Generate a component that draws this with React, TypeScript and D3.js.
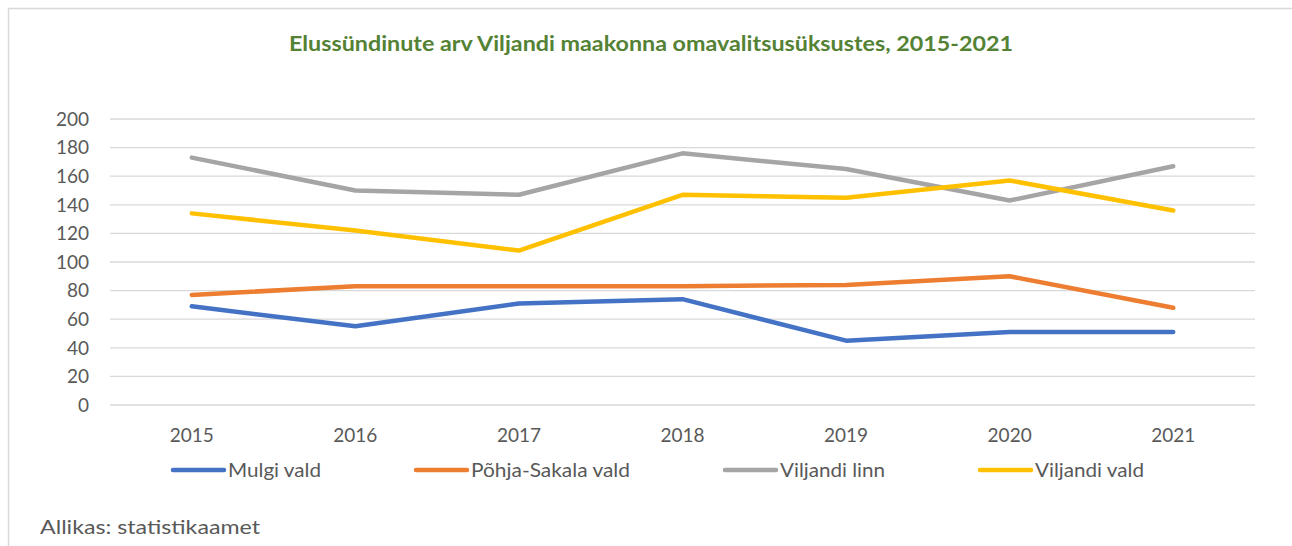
import React from "react";
import * as d3 from "d3";

const years = ["2015", "2016", "2017", "2018", "2019", "2020", "2021"];
const seriesNames = ["Mulgi vald", "Põhja-Sakala vald", "Viljandi linn", "Viljandi vald"];
const mulgi = [69, 55, 71, 74, 45, 51, 51];
const pohjaSakala = [77, 83, 83, 83, 84, 90, 68];
const viljandiLinn = [173, 150, 147, 176, 165, 143, 167];
const viljandiVald = [134, 122, 108, 147, 145, 157, 136];
const yTicks = [0, 20, 40, 60, 80, 100, 120, 140, 160, 180, 200];
const colors = ["#4472C4", "#ED7D31", "#A5A5A5", "#FFC000"];
const title = "Elussündinute arv Viljandi maakonna omavalitsusüksustes, 2015-2021";
const source = "Allikas: statistikaamet";

const W = 1292;
const H = 546;
const font = "Lato, 'Open Sans', sans-serif";

export default function App() {
  const x = d3.scaleBand().domain(years).range([110, 1255]);
  const y = d3.scaleLinear().domain([0, 200]).range([405, 119]);
  const data = [mulgi, pohjaSakala, viljandiLinn, viljandiVald];
  const line = d3
    .line<number>()
    .x((_, i) => (x(years[i]) as number) + x.bandwidth() / 2)
    .y((d) => y(d));
  const legendX = [173, 416, 725, 980];
  const legendTextW = [93, 159, 105, 109];

  return (
    <svg
      width={W}
      height={H}
      style={{ position: "absolute", left: 0, top: 0, background: "#fff" }}
    >
      <rect x={0} y={0} width={W} height={H} fill="#fff" />
      <line x1={8} y1={8.5} x2={W} y2={8.5} stroke="#d9d9d9" strokeWidth={1.5} />
      <line x1={8.5} y1={8} x2={8.5} y2={H} stroke="#d9d9d9" strokeWidth={1.5} />
      <text
        x={651}
        y={51}
        textAnchor="middle"
        fontFamily={font}
        fontWeight="bold"
        fontSize={20}
        fill="#548235"
        textLength={724}
        lengthAdjust="spacingAndGlyphs"
      >
        {title}
      </text>
      {yTicks.map((t) => (
        <g key={t}>
          <line x1={110} x2={1255} y1={y(t)} y2={y(t)} stroke="#d9d9d9" strokeWidth={1.3} />
          <text
            x={89}
            y={y(t)}
            dy="0.36em"
            textAnchor="end"
            fontFamily={font}
            fontSize={19}
            fill="#595959"
          >
            {t}
          </text>
        </g>
      ))}
      {years.map((yr) => (
        <text
          key={yr}
          x={(x(yr) as number) + x.bandwidth() / 2}
          y={435}
          dy="0.36em"
          textAnchor="middle"
          fontFamily={font}
          fontSize={19}
          fill="#595959"
        >
          {yr}
        </text>
      ))}
      {data.map((d, i) => (
        <path
          key={seriesNames[i]}
          d={line(d) as string}
          fill="none"
          stroke={colors[i]}
          strokeWidth={4.5}
          strokeLinecap="round"
          strokeLinejoin="round"
        />
      ))}
      {seriesNames.map((name, i) => (
        <g key={name}>
          <line
            x1={legendX[i]}
            x2={legendX[i] + 51}
            y1={470}
            y2={470}
            stroke={colors[i]}
            strokeWidth={4.5}
            strokeLinecap="round"
          />
          <text
            x={legendX[i] + 55}
            y={470}
            dy="0.36em"
            fontFamily={font}
            fontSize={19}
            fill="#595959"
            textLength={legendTextW[i]}
            lengthAdjust="spacingAndGlyphs"
          >
            {name}
          </text>
        </g>
      ))}
      <text
        x={40}
        y={527}
        dy="0.36em"
        fontFamily={font}
        fontSize={20}
        fill="#595959"
        textLength={220}
        lengthAdjust="spacingAndGlyphs"
      >
        {source}
      </text>
    </svg>
  );
}
